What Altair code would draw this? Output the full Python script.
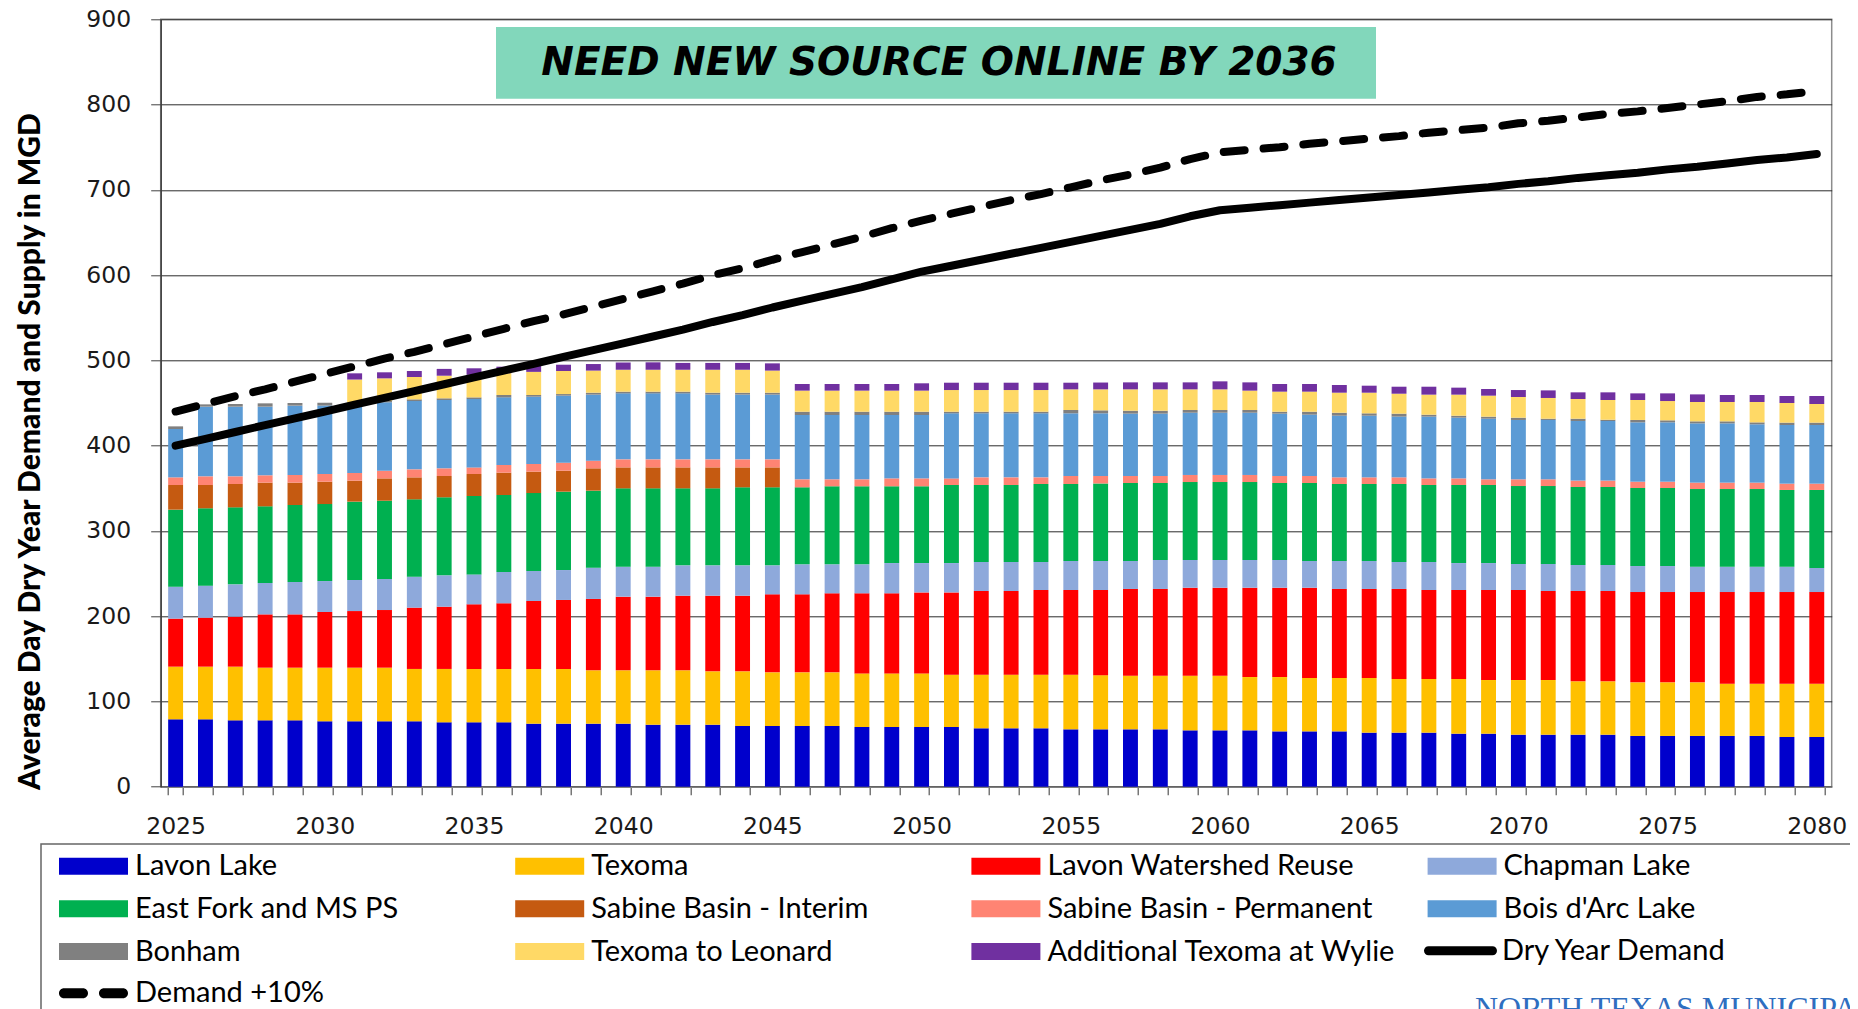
import altair as alt
import pandas as pd

years = list(range(2025, 2081))

sources = [
    "Lavon Lake", "Texoma", "Lavon Watershed Reuse", "Chapman Lake",
    "East Fork and MS PS", "Sabine Basin - Interim", "Sabine Basin - Permanent",
    "Bois d'Arc Lake", "Bonham", "Texoma to Leonard", "Additional Texoma at Wylie",
]
colors = [
    "#0000CC", "#FFC000", "#FF0000", "#8EA9DB", "#00B050", "#C55A11",
    "#FF8473", "#5B9BD5", "#808080", "#FFD966", "#7030A0",
]

lavon = [79.0, 79.0, 77.8, 77.8, 77.8, 76.7, 76.7, 76.7, 76.7, 75.5,
         75.5, 75.5, 73.9, 73.9, 73.9, 73.9, 72.7, 72.7, 72.7, 71.2,
         71.2, 71.2, 71.2, 70.0, 70.0, 70.0, 70.0, 68.5, 68.5, 68.5,
         67.3, 67.3, 67.3, 67.3, 66.1, 66.1, 66.1, 64.9, 64.9, 64.9,
         63.4, 63.4, 63.4, 62.2, 62.2, 61.0, 61.0, 61.0, 61.0, 59.5,
         59.5, 59.5, 59.5, 59.5, 58.3, 58.3]
texoma = [61.8, 61.8, 63.0, 61.8, 61.8, 62.9, 62.9, 62.9, 61.4, 62.6,
          62.6, 62.6, 64.2, 64.2, 62.6, 62.6, 63.8, 63.8, 62.6, 64.1,
          62.9, 62.9, 62.9, 62.9, 62.9, 62.9, 61.4, 62.9, 62.9, 62.9,
          64.1, 63.5, 62.9, 62.9, 64.1, 64.1, 62.5, 63.7, 62.6, 62.6,
          64.1, 62.9, 62.9, 64.1, 62.9, 64.1, 64.1, 62.6, 62.6, 62.9,
          62.9, 62.9, 61.3, 61.3, 62.5, 62.5]
reuse = [56.3, 57.4, 58.6, 62.5, 62.5, 65.3, 66.4, 67.6, 71.9, 73.0,
         75.8, 77.0, 79.7, 80.9, 83.7, 86.4, 86.4, 87.5, 88.7, 88.7,
         91.5, 91.5, 92.7, 93.9, 93.9, 95.0, 96.5, 98.1, 98.1, 99.3,
         99.3, 99.9, 101.7, 101.7, 103.2, 103.2, 104.8, 104.8, 105.9, 104.4,
         104.4, 105.6, 104.4, 104.4, 105.6, 105.6, 104.4, 105.9, 105.9, 105.9,
         105.9, 105.9, 107.5, 107.5, 107.5, 107.5]
chapman = [37.5, 37.6, 37.9, 36.8, 38.0, 36.3, 36.4, 36.4, 36.3, 36.8,
           35.1, 36.7, 35.2, 35.1, 36.7, 35.1, 35.1, 35.6, 35.6, 35.6,
           34.0, 35.2, 34.0, 34.0, 35.5, 34.4, 34.4, 34.0, 34.0, 32.8,
           34.0, 34.0, 32.8, 34.0, 32.5, 32.5, 32.5, 32.5, 31.3, 32.8,
           32.8, 31.6, 32.8, 31.6, 31.6, 30.5, 31.7, 30.5, 30.5, 30.5,
           30.5, 29.7, 29.7, 29.7, 29.7, 28.2]
east_fork = [90.3, 90.7, 90.3, 89.9, 90.3, 90.3, 91.9, 91.8, 90.7, 91.5,
             91.9, 90.3, 91.4, 91.9, 90.3, 91.9, 91.9, 90.3, 90.3, 91.5,
             91.5, 90.3, 91.5, 91.5, 90.0, 90.0, 91.5, 90.3, 90.3, 91.5,
             90.3, 90.9, 91.5, 90.3, 91.4, 91.4, 91.4, 90.3, 91.5, 90.3,
             90.3, 91.5, 90.3, 91.5, 91.5, 91.4, 91.4, 91.5, 91.5, 91.5,
             91.5, 91.1, 91.1, 91.1, 90.0, 91.5]
sabine_interim = [28.9, 27.3, 27.4, 27.8, 26.2, 26.2, 24.6, 26.2, 25.8, 25.0,
                  25.8, 26.2, 25.1, 24.6, 26.2, 24.6, 24.6, 24.6, 24.6, 23.4,
                  23.4, 0, 0, 0, 0, 0, 0, 0, 0, 0,
                  0, 0, 0, 0, 0, 0, 0, 0, 0, 0,
                  0, 0, 0, 0, 0, 0, 0, 0, 0, 0,
                  0, 0, 0, 0, 0, 0]
sabine_perm = [9.0, 10.2, 9.0, 8.6, 9.0, 9.0, 9.0, 9.0, 9.4, 9.0,
               7.8, 9.0, 9.0, 9.4, 9.0, 9.4, 9.4, 9.4, 9.4, 9.4,
               9.4, 9.4, 8.2, 8.2, 9.3, 9.3, 7.8, 9.0, 9.0, 7.8,
               9.4, 8.8, 8.2, 8.2, 8.3, 8.3, 8.3, 8.2, 8.2, 7.8,
               7.8, 7.8, 7.8, 7.8, 6.7, 7.9, 7.9, 7.5, 7.5, 7.4,
               7.4, 7.5, 7.5, 7.5, 7.4, 7.4]
bois_darc = [56.7, 81.7, 81.7, 80.5, 81.3, 80.3, 79.6, 80.2, 80.1, 80.1,
             80.2, 79.3, 78.9, 78.6, 77.4, 77.4, 77.4, 77.4, 75.9, 75.9,
             75.9, 75.4, 75.4, 75.4, 74.3, 74.3, 76.3, 75.1, 75.1, 75.1,
             73.5, 73.5, 73.1, 73.1, 73.0, 73.0, 73.0, 73.1, 71.9, 72.3,
             72.3, 71.2, 72.4, 71.2, 71.1, 69.6, 69.6, 69.9, 69.9, 69.6,
             69.6, 69.5, 69.5, 68.4, 68.8, 68.8]
bonham = [3.1, 2.7, 3.1, 3.9, 3.1, 3.3, 2.0, 1.9, 2.0, 2.0,
          1.9, 2.8, 2.0, 1.9, 2.3, 2.0, 2.0, 2.0, 2.3, 2.3,
          2.3, 3.9, 3.9, 3.9, 3.9, 3.9, 1.9, 1.9, 1.9, 1.9,
          3.9, 3.5, 3.5, 3.5, 3.2, 3.2, 3.2, 2.3, 3.5, 3.5,
          2.8, 3.5, 2.3, 2.3, 2.4, 2.7, 1.5, 2.7, 1.5, 2.8,
          2.4, 2.4, 2.4, 2.3, 2.8, 2.8]
leonard = [0, 0, 0, 0, 0, 0, 28.0, 26.2, 26.2, 26.5,
           26.4, 25.6, 27.1, 27.0, 25.9, 25.7, 25.7, 25.7, 26.9, 26.9,
           25.9, 24.7, 24.7, 24.7, 24.7, 24.7, 25.4, 25.4, 25.4, 25.4,
           24.2, 24.6, 25.0, 25.0, 24.2, 24.2, 22.7, 23.5, 23.5, 23.5,
           24.2, 23.4, 23.5, 24.7, 24.6, 24.2, 24.3, 23.1, 23.1, 23.4,
           22.6, 22.7, 22.7, 23.9, 23.0, 21.8]
wylie = [0, 0, 0, 0, 0, 0, 7.3, 7.1, 7.0, 8.0,
         7.7, 7.6, 7.2, 7.4, 7.7, 8.5, 8.7, 8.0, 8.0, 8.0,
         8.5, 7.8, 7.8, 7.8, 7.8, 8.6, 8.6, 8.6, 8.6, 8.6,
         7.8, 8.0, 8.2, 8.2, 8.2, 9.4, 9.7, 9.0, 9.0, 9.0,
         8.2, 8.2, 9.3, 8.2, 7.8, 8.2, 8.9, 7.8, 9.0, 7.8,
         9.0, 8.9, 8.2, 8.2, 8.2, 9.4]

dry_year_demand = [400, 408, 416, 424, 432, 440, 448, 456, 464, 472,
                   480, 488, 496, 504, 512, 520, 528, 536, 545, 553,
                   562, 570, 578, 586, 595, 604, 611, 618, 625, 632,
                   639, 646, 653, 660, 669, 676, 679, 682, 685, 688,
                   691, 694, 697, 700, 703, 707, 710, 714, 717, 720,
                   724, 727, 731, 735, 738, 742]
demand_plus10 = [440, 449, 458, 466, 475, 484, 493, 502, 510, 519,
                 528, 537, 546, 554, 563, 572, 581, 590, 600, 608,
                 618, 627, 636, 645, 655, 664, 672, 680, 688, 695,
                 703, 711, 718, 726, 736, 744, 747, 750, 754, 757,
                 760, 763, 767, 770, 773, 778, 781, 785, 789, 792,
                 796, 800, 804, 809, 812, 816]

y_ticks = [0, 100, 200, 300, 400, 500, 600, 700, 800, 900]
y_title = "Average Day Dry Year Demand and Supply in MGD"
banner_text = "NEED NEW SOURCE ONLINE BY 2036"
logo_text = "NORTH TEXAS MUNICIPAL WATER DISTRICT"

series_values = [lavon, texoma, reuse, chapman, east_fork, sabine_interim,
                 sabine_perm, bois_darc, bonham, leonard, wylie]
rows = []
for k, (name, vals) in enumerate(zip(sources, series_values)):
    for yr, v in zip(years, vals):
        rows.append({"year": yr, "source": name, "value": v, "order": k})
bars_df = pd.DataFrame(rows)
dry_df = pd.DataFrame({"year": years, "value": dry_year_demand, "series": "Dry Year Demand"})
plus_df = pd.DataFrame({"year": years, "value": demand_plus10, "series": "Demand +10%"})

W, H = 1671, 767.4
LAB = "Lato"
LFS = 29

x_enc = alt.X(
    "year:O",
    scale=alt.Scale(paddingInner=0.5, paddingOuter=0.25),
    axis=alt.Axis(
        title=None, labelAngle=0, tickBand="extent", tickSize=8,
        labelPadding=20, labelFont="DejaVu Sans", labelFontSize=23.5,
        labelColor="#1a1a1a", labelOverlap=False,
        labelExpr="datum.value % 5 == 0 ? datum.label : ''",
        domainColor="#7f7f7f", domainWidth=1.5, tickColor="#555555", tickWidth=1.2,
        grid=False,
    ),
)
y_scale = alt.Scale(domain=[0, 900], nice=False)
y_axis = alt.Axis(
    values=y_ticks, grid=True, gridColor="#2b2b2b", gridWidth=1,
    domainColor="#404040", domainWidth=1.5, tickColor="#404040",
    tickSize=10, labelPadding=20, labelFont="DejaVu Sans",
    labelFontSize=23.5, labelColor="#1a1a1a", title=y_title,
    titleFont=LAB, titleFontWeight=900, titleFontSize=30,
    titleColor="#000000", titleAlign="center", titleBaseline="middle",
    titleAngle=270, titleX=-130.7, titleY=431.7,
)

rect_path = "M-3.45,-0.85H3.45V0.85H-3.45Z"
solid_path = "M-3.2,-0.45H3.2A0.45,0.45,0,0,1,3.2,0.45H-3.2A0.45,0.45,0,0,1,-3.2,-0.45Z"
dash_path = ("M-2.95,-0.5H-1.05A0.5,0.5,0,0,1,-1.05,0.5H-2.95A0.5,0.5,0,0,1,-2.95,-0.5Z"
             "M1.05,-0.5H2.95A0.5,0.5,0,0,1,2.95,0.5H1.05A0.5,0.5,0,0,1,1.05,-0.5Z")

common_legend = dict(
    orient="none", title=None, symbolSize=400, symbolStrokeWidth=0,
    symbolOffset=20, labelOffset=27, labelFont=LAB, labelFontSize=LFS,
    labelColor="#000000", labelLimit=600, padding=0, direction="horizontal",
)

bars = alt.Chart(bars_df).mark_bar().encode(
    x=x_enc,
    y=alt.Y("value:Q", stack="zero", scale=y_scale, axis=y_axis),
    color=alt.Color(
        "source:N",
        scale=alt.Scale(domain=sources, range=colors),
        legend=alt.Legend(
            columns=4, gridAlign="all", columnPadding=31.2, rowPadding=12.8,
            legendX=-101.7, legendY=832.2, symbolType=rect_path, **common_legend,
        ),
    ),
    order=alt.Order("order:Q", sort="ascending"),
)

dry_line = alt.Chart(dry_df).mark_line(
    strokeWidth=8, strokeCap="round", strokeJoin="round"
).encode(
    x=alt.X("year:O"),
    y=alt.Y("value:Q", scale=y_scale, axis=y_axis),
    color=alt.Color(
        "series:N",
        scale=alt.Scale(domain=["Dry Year Demand"], range=["#000000"]),
        legend=alt.Legend(
            legendX=1265.3, legendY=916.9, symbolType=solid_path,
            symbolFillColor="#000000", **common_legend,
        ),
    ),
)

plus_line = alt.Chart(plus_df).mark_line(
    strokeWidth=8, strokeCap="round", strokeJoin="round", strokeDash=[21, 19]
).encode(
    x=alt.X("year:O"),
    y=alt.Y("value:Q", scale=y_scale, axis=y_axis),
    color=alt.Color(
        "series:N",
        scale=alt.Scale(domain=["Demand +10%"], range=["#000000"]),
        legend=alt.Legend(
            legendX=-101.7, legendY=959.5, symbolType=dash_path,
            symbolFillColor="#000000", **common_legend,
        ),
    ),
)

one = pd.DataFrame({"banner": [banner_text], "logo": [logo_text]})

banner_box = alt.Chart(one).mark_rect(color="#82D7BB").encode(
    x=alt.value(335.3), x2=alt.value(1215.3), y=alt.value(7.7), y2=alt.value(79.4)
)
banner = alt.Chart(one).mark_text(
    font="DejaVu Sans", fontWeight="bold", fontStyle="italic", fontSize=39,
    align="center", baseline="middle", color="#000000",
).encode(x=alt.value(778.3), y=alt.value(43.7), text="banner:N")

legend_frame = alt.Chart(one).mark_rect(
    fillOpacity=0, stroke="#666666", strokeWidth=1.5
).encode(
    x=alt.value(-119.7), x2=alt.value(1800), y=alt.value(824.7), y2=alt.value(1200)
)
logo = alt.Chart(one).mark_text(
    font="Liberation Serif", fontSize=32, align="left", baseline="alphabetic",
    color="#2F6EC0",
).encode(x=alt.value(1314.3), y=alt.value(999.7), text="logo:N")

chart = alt.layer(
    legend_frame, bars, dry_line, plus_line, banner_box, banner, logo
).resolve_scale(color="independent").properties(
    width=W, height=H,
    autosize=alt.AutoSizeParams(type="none"),
    padding={"left": 152.7, "top": 11.3, "right": 18.3, "bottom": 222.3},
).configure_view(stroke="#8c8c8c", strokeWidth=1.5)

chart.save("out.html", embed_options={"renderer": "svg", "actions": False})
